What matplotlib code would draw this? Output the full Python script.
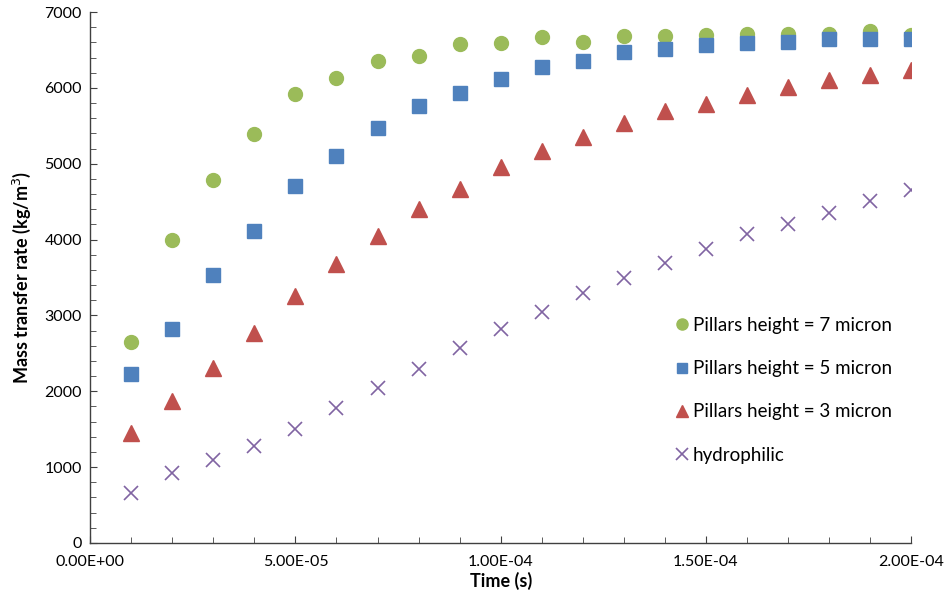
import numpy as np
import matplotlib
matplotlib.use("Agg")
import matplotlib.pyplot as plt
from matplotlib.ticker import MultipleLocator, FuncFormatter

plt.rcParams['font.family'] = ['Lato', 'DejaVu Sans']

time_s = [1e-5, 2e-5, 3e-5, 4e-5, 5e-5, 6e-5, 7e-5, 8e-5, 9e-5, 1e-4,
          1.1e-4, 1.2e-4, 1.3e-4, 1.4e-4, 1.5e-4, 1.6e-4, 1.7e-4, 1.8e-4, 1.9e-4, 2e-4]

h7 = [2650, 3990, 4790, 5390, 5920, 6130, 6350, 6415, 6575, 6587,
      6670, 6605, 6683, 6683, 6700, 6705, 6710, 6705, 6745, 6700]
h5 = [2225, 2820, 3530, 4110, 4700, 5100, 5470, 5760, 5935, 6115,
      6270, 6355, 6475, 6515, 6570, 6595, 6610, 6650, 6650, 6640]
h3 = [1450, 1870, 2310, 2765, 3250, 3675, 4045, 4405, 4670, 4960,
      5170, 5350, 5535, 5690, 5790, 5905, 6005, 6100, 6175, 6240]
hydro = [665, 918, 1095, 1275, 1500, 1780, 2040, 2295, 2565, 2820,
         3040, 3300, 3490, 3690, 3880, 4080, 4205, 4345, 4510, 4650]

labels = ["Pillars height = 7 micron", "Pillars height = 5 micron",
          "Pillars height = 3 micron", "hydrophilic"]

fig = plt.figure(figsize=(9.5, 6), dpi=100)
ax = fig.add_axes([0.095, 0.095, 0.864, 0.885])

ax.plot(time_s, h7, 'o', ms=10, color='#9BBB59', label=labels[0])
ax.plot(time_s, h5, 's', ms=9.5, color='#4F81BD', label=labels[1])
ax.plot(time_s, h3, '^', ms=11, color='#C0504D', label=labels[2])
ax.plot(time_s, hydro, 'x', ms=10, mew=1.2, color='#8064A2', label=labels[3])

ax.set_xlim(0, 2e-4)
ax.set_ylim(0, 7000)
ax.xaxis.set_major_locator(MultipleLocator(5e-5))
ax.xaxis.set_minor_locator(MultipleLocator(1e-5))
ax.yaxis.set_major_locator(MultipleLocator(1000))
ax.yaxis.set_minor_locator(MultipleLocator(200))
ax.xaxis.set_major_formatter(FuncFormatter(lambda v, p: "%.2E" % v))

for s in ['top', 'right']:
    ax.spines[s].set_visible(False)
for s in ['left', 'bottom']:
    ax.spines[s].set_color('#404040')
    ax.spines[s].set_linewidth(1)

ax.tick_params(which='both', direction='in', color='#404040', labelsize=11.5)
ax.tick_params(which='major', length=5)
ax.tick_params(which='minor', length=4)
ax.tick_params(axis='x', pad=9)
ax.tick_params(axis='y', pad=6)

ax.set_xlabel("Time (s)", fontsize=13, fontweight='bold', labelpad=2)
ax.set_ylabel("Mass transfer rate (kg/m$^3$)", fontsize=13, fontweight='bold', labelpad=8)

leg = ax.legend(loc='upper left', bbox_to_anchor=(0.70, 0.44), frameon=False,
                fontsize=13.5, labelspacing=1.4, handletextpad=0.1,
                handlelength=1.0, borderaxespad=0, markerscale=0.8)

fig.savefig("out.png", dpi=100)
